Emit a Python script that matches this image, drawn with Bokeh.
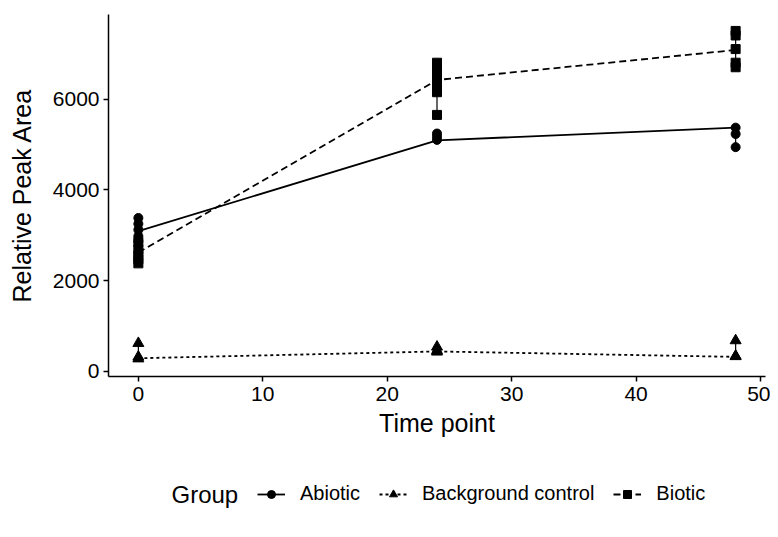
import numpy as np
from bokeh.plotting import figure
from bokeh.layouts import column
from bokeh.models import Range1d, Legend, LegendItem, FixedTicker, Label
from bokeh.embed import file_html
from bokeh.resources import INLINE

# ---- data ----
time_points = [0, 24, 48]

abiotic_time = [0, 0, 0, 0, 0, 24, 24, 24, 48, 48, 48]
abiotic_vals = [3380, 3250, 3120, 2980, 2870, 5240, 5170, 5100, 5370, 5230, 4940]
abiotic_mean = [3090, 5090, 5370]

background_time = [0, 0, 0, 24, 24, 24, 48, 48, 48]
background_vals = [620, 320, 280, 540, 460, 430, 680, 340, 330]
background_mean = [290, 440, 320]

biotic_time = [0, 0, 0, 0, 0, 24, 24, 24, 24, 24, 24, 24, 48, 48, 48, 48, 48]
biotic_vals = [2380, 2470, 2560, 2680, 2850, 5650, 6150, 6300, 6450, 6600, 6750, 6800,
               7500, 7400, 7100, 6800, 6700]
biotic_mean = [2620, 6420, 7080]

x_ticks = [0, 10, 20, 30, 40, 50]
y_ticks = [0, 2000, 4000, 6000]

FONT = "Liberation Sans"

p = figure(width=770, height=460, x_range=Range1d(-2.4, 50.4), y_range=Range1d(-112, 7862),
           output_backend="svg", toolbar_location=None,
           min_border_left=108, min_border_right=5, min_border_top=14, min_border_bottom=84)
p.outline_line_color = None
p.xgrid.visible = False
p.ygrid.visible = False
p.background_fill_color = "white"

for ax in (p.xaxis[0], p.yaxis[0]):
    ax.axis_line_width = 1.5
    ax.axis_line_color = "black"
    ax.major_tick_line_color = "black"
    ax.major_tick_line_width = 1.5
    ax.major_tick_out = 5
    ax.major_tick_in = 0
    ax.minor_tick_line_color = None
    ax.major_label_text_font = FONT
    ax.major_label_text_font_size = "21px"
    ax.major_label_text_color = "black"
    ax.axis_label_text_font = FONT
    ax.axis_label_text_font_size = "25px"
    ax.axis_label_text_font_style = "normal"
    ax.axis_label_text_color = "black"

p.xaxis.ticker = FixedTicker(ticks=x_ticks)
p.yaxis.ticker = FixedTicker(ticks=y_ticks)
p.xaxis.axis_label = "Time point"
p.yaxis.axis_label = "Relative Peak Area"
p.xaxis.major_label_standoff = 5
p.yaxis.major_label_standoff = 4
p.xaxis.axis_label_standoff = 5
p.yaxis.axis_label_standoff = 14


def add_group(fig, times, vals, means, marker, size, dash, visible=True):
    t = np.array(times)
    v = np.array(vals)
    mins = [v[t == tp].min() for tp in time_points]
    maxs = [v[t == tp].max() for tp in time_points]
    if visible:
        fig.segment(x0=time_points, y0=mins, x1=time_points, y1=maxs, line_color="black", line_width=1.2)
    ln = fig.line(time_points, means, line_color="black", line_width=1.8, line_dash=dash)
    sc = fig.scatter(times, vals, marker=marker, size=size, fill_color="black", line_color="black")
    ln.visible = visible
    sc.visible = visible
    return ln, sc


add_group(p, abiotic_time, abiotic_vals, abiotic_mean, "circle", 9, "solid")
add_group(p, background_time, background_vals, background_mean, "triangle", 11, "3 3")
add_group(p, biotic_time, biotic_vals, biotic_mean, "square", 9, "7 4")

# ---- legend row (separate strip so nothing is clipped) ----
q = figure(width=770, height=70, x_range=Range1d(-2.4, 50.4), y_range=Range1d(-112, 7862),
           output_backend="svg", toolbar_location=None,
           x_axis_location=None, y_axis_location=None, min_border=0)
q.outline_line_color = None
q.xgrid.visible = False
q.ygrid.visible = False

ab_l, ab_s = add_group(q, abiotic_time, abiotic_vals, abiotic_mean, "circle", 9, "solid", False)
bg_l, bg_s = add_group(q, background_time, background_vals, background_mean, "triangle", 11, "3 3", False)
bi_l, bi_s = add_group(q, biotic_time, biotic_vals, biotic_mean, "square", 9, "7 4", False)

legend = Legend(items=[
    LegendItem(label="Abiotic", renderers=[ab_l, ab_s]),
    LegendItem(label="Background control", renderers=[bg_l, bg_s]),
    LegendItem(label="Biotic", renderers=[bi_l, bi_s]),
], orientation="horizontal", location=(149, 25))
legend.label_text_font = FONT
legend.label_text_font_size = "20px"
legend.label_text_color = "black"
legend.glyph_width = 28
legend.glyph_height = 20
legend.label_standoff = 15
legend.spacing = 19
legend.padding = 0
legend.margin = 0
legend.border_line_color = None
legend.background_fill_alpha = 0
legend.inactive_fill_alpha = 0
q.add_layout(legend, "center")

q.add_layout(Label(x=63, y=36, x_units="screen", y_units="screen", text="Group",
                   text_font=FONT, text_font_size="24px", text_baseline="middle",
                   text_color="black"))

open("out.html", "w").write(file_html(column(p, q), INLINE))
